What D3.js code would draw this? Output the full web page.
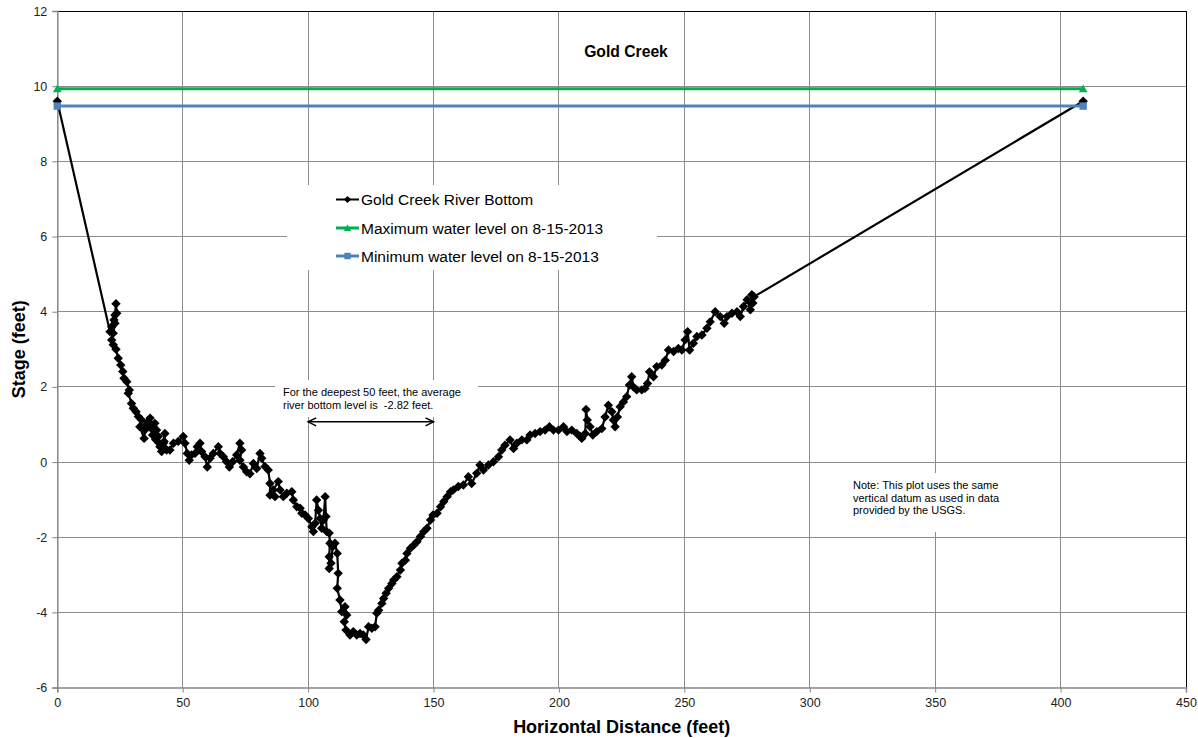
<!DOCTYPE html>
<html>
<head>
<meta charset="utf-8">
<script src="https://cdn.jsdelivr.net/npm/d3@7"></script>
<style>
  html, body { margin: 0; padding: 0; background: #fff; }
  svg { display: block; font-family: "Liberation Sans", Arial, sans-serif; }
</style>
</head>
<body>
<svg id="chart" width="1198" height="738"></svg>
<script>
// Surveyed river bottom profile (horizontal distance in feet, stage in feet)
const bottomDistance = [
  0, 21.0, 21.7, 22.6, 23.0, 23.4, 23.7, 23.0, 22.3, 21.7, 22.3, 23.4, 24.3, 25.3, 26.1, 26.6, 27.7, 28.7, 28.3, 29.6,
  30.3, 31.4, 32.3, 33.6, 32.9, 34.6, 35.0, 35.6, 36.3, 37.0, 37.4, 38.0, 38.3, 38.9, 39.2, 39.6, 40.3, 40.6, 40.9, 41.6,
  42.3, 42.9, 42.6, 42.3, 43.6, 44.9,
  46.3, 48.2, 50.2, 50.9, 51.8, 52.6, 53.5, 54.9, 55.8, 56.9, 57.5, 58.9, 59.8, 60.9, 62.2, 64.2, 64.9, 66.2, 67.5, 68.6,
  69.9, 71.5, 72.8, 73.5, 72.8, 74.2, 75.5, 76.8, 78.2, 79.5, 80.8, 81.5, 82.8, 84.1, 84.8, 84.8, 86.8, 86.1, 88.1, 88.8,
  90.1, 91.5, 93.5, 94.1, 95.5, 96.8, 97.5, 98.8, 100.1, 101.5, 102.1, 102.8, 103.4, 104.1, 104.8, 105.4, 106.1, 106.8, 107.1, 107.4,
  108.4, 108.7, 108.4, 108.4, 109.1, 109.8, 110.7, 111.6, 112.0, 111.6, 112.7, 113.4, 114.7, 115.4, 114.4, 115.1, 116.7, 118.0, 119.4, 120.7,
  122.0, 123.1, 124.1, 125.4, 126.7, 127.4, 128.1, 129.4, 130.1, 131.1, 132.1, 133.4, 134.1, 135.4, 136.8, 137.4, 138.8, 139.4, 140.8, 142.1,
  143.4, 144.8, 146.1, 147.4, 148.8, 149.8, 151.4, 152.8, 154.1, 155.4, 156.8, 157.9, 159.9, 161.9, 163.9, 165.2, 167.2, 168.5, 169.9, 171.9,
  173.9, 175.9, 177.2, 178.5, 180.5, 181.9, 183.2, 185.2, 187.2, 188.5, 190.5, 192.5, 194.5, 196.2, 197.8, 199.8, 201.8, 203.2, 205.1, 207.1,
  208.5, 209.1, 210.5, 210.8, 211.3, 212.4, 213.5, 215.1, 217.1, 218.4, 219.7, 221.1, 221.7, 222.4, 223.3, 224.4, 225.7, 227.0, 228.1, 229.0,
  229.7, 231.0, 233.0, 234.3, 235.3, 236.1, 237.7, 239.0, 241.0, 242.4, 243.7, 245.7, 247.6, 249.0, 250.3, 251.3, 252.1, 253.6, 255.0, 257.0,
  259.0, 260.3, 262.3, 264.3, 265.9, 267.0, 269.0, 271.0, 272.3, 273.6, 275.0, 276.3, 276.9, 277.3, 277.8, 409
];
const bottomStage = [
  9.6, 3.47, 3.6, 3.78, 3.91, 4.21, 3.96, 3.69, 3.43, 3.25, 3.12, 3.0, 2.76, 2.58, 2.41, 2.23, 2.14, 1.92, 1.83, 1.56,
  1.43, 1.34, 1.21, 1.12, 0.94, 0.63, 0.86, 1.0, 1.08, 1.17, 0.9, 0.72, 0.94, 1.03, 0.6, 0.85, 0.68, 0.5, 0.41, 0.28,
  0.50, 0.76, 0.55, 0.41, 0.32, 0.32,
  0.50, 0.55, 0.68, 0.5, 0.23, 0.05, 0.19, 0.23, 0.41, 0.50, 0.28, 0.14, -0.13, 0.1, 0.23, 0.41, 0.23, 0.14, 0.01, -0.13,
  0.01, 0.19, 0.50, 0.32, 0.05, -0.13, -0.26, -0.31, -0.04, -0.17, 0.23, 0.1, -0.12, -0.21, -0.57, -0.88, -0.92, -0.74, -0.52, -0.74,
  -0.92, -0.83, -0.79, -1.01, -1.19, -1.23, -1.36, -1.41, -1.5, -1.72, -1.85, -1.63, -1.01, -1.28, -1.5, -1.76, -1.54, -0.92, -1.45, -1.85,
  -1.89, -2.16, -2.52, -2.83, -2.69, -2.25, -2.16, -2.43, -2.96, -3.36, -3.67, -3.98, -3.85, -4.07, -4.25, -4.47, -4.6, -4.51, -4.6, -4.56,
  -4.6, -4.72, -4.38, -4.42, -4.38, -4.02, -3.94, -3.76, -3.63, -3.49, -3.36, -3.23, -3.14, -3.05, -2.87, -2.69, -2.61, -2.43, -2.29, -2.21,
  -2.12, -1.98, -1.85, -1.76, -1.54, -1.41, -1.36, -1.19, -1.05, -0.92, -0.79, -0.74, -0.65, -0.61, -0.39, -0.57, -0.3, -0.08, -0.21, -0.08,
  0.01, 0.14, 0.32, 0.45, 0.59, 0.36, 0.5, 0.59, 0.59, 0.72, 0.76, 0.81, 0.85, 0.94, 0.85, 0.85, 0.94, 0.81, 0.85, 0.76,
  0.68, 0.63, 0.76, 1.4, 1.12, 0.94, 0.72, 0.81, 0.89, 1.2, 1.51, 1.34, 1.12, 0.94, 1.2, 1.47, 1.6, 1.74, 2.05, 2.27,
  2.0, 1.92, 1.92, 1.96, 2.09, 2.4, 2.27, 2.54, 2.58, 2.71, 2.98, 2.94, 3.02, 2.98, 3.25, 3.47, 2.98, 3.16, 3.34, 3.38,
  3.56, 3.73, 4.0, 3.87, 3.69, 3.87, 3.96, 4.0, 3.87, 4.14, 4.32, 4.05, 4.45, 4.23, 4.4, 9.6
];

// Water levels recorded on 8-15-2013
const levelDistance = [0, 409];
const maxLevel = [9.93, 9.93];
const minLevel = [9.47, 9.47];

// Span of the deepest 50 feet
const deepSpan = [100, 150];
const deepArrowStage = 1.07;

const xTicks = [0, 50, 100, 150, 200, 250, 300, 350, 400, 450];
const yTicks = [-6, -4, -2, 0, 2, 4, 6, 8, 10, 12];

const seriesNames = [
  "Gold Creek River Bottom",
  "Maximum water level on 8-15-2013",
  "Minimum water level on 8-15-2013"
];
const seriesColors = ["#000000", "#00B050", "#4F81BD"];

const svg = d3.select("#chart");
const plot = { left: 57.3, right: 1186, top: 11, bottom: 687.6 };

const x = d3.scaleLinear().domain([0, 450]).range([plot.left, plot.right]);
const y = d3.scaleLinear().domain([-6, 12]).range([plot.bottom, plot.top]);

// Gridlines
const grid = svg.append("g").attr("stroke", "#8c8c8c").attr("stroke-width", 1).attr("shape-rendering", "crispEdges");
grid.selectAll("line.v").data(xTicks.slice(1, -1)).join("line")
  .attr("x1", d => x(d)).attr("x2", d => x(d))
  .attr("y1", plot.top).attr("y2", plot.bottom);
grid.selectAll("line.h").data(yTicks.slice(1, -1)).join("line")
  .attr("x1", plot.left).attr("x2", plot.right)
  .attr("y1", d => y(d)).attr("y2", d => y(d));

// Plot area frame (top and right)
svg.append("path")
  .attr("d", `M${plot.left},${y(12)}H${plot.right}V${plot.bottom}`)
  .attr("fill", "none").attr("stroke", "#000").attr("stroke-width", 1)
  .attr("shape-rendering", "crispEdges");

// Axes
const plain = d => String(d);
const xAxis = svg.append("g").attr("transform", `translate(0,${plot.bottom})`)
  .call(d3.axisBottom(x).tickValues(xTicks).tickSize(5).tickPadding(6).tickFormat(plain));
const yAxis = svg.append("g").attr("transform", `translate(${plot.left},0)`)
  .call(d3.axisLeft(y).tickValues(yTicks).tickSize(5).tickPadding(5).tickFormat(plain));
[xAxis, yAxis].forEach(a => {
  a.select(".domain").attr("stroke", "#868686").attr("stroke-width", 1.5);
  a.selectAll(".tick line").attr("stroke", "#868686");
  a.selectAll(".tick text").attr("fill", "#222").style("font-size", "12.5px")
    .style("font-family", "'Liberation Sans', Arial, sans-serif");
});

// Text boxes with white backgrounds (cover gridlines)
svg.append("rect").attr("x", 287).attr("y", 185).attr("width", 370).attr("height", 85).attr("fill", "#fff");
svg.append("rect").attr("x", 275).attr("y", 380).attr("width", 203).attr("height", 37).attr("fill", "#fff");
svg.append("rect").attr("x", 843).attr("y", 473).attr("width", 170).attr("height", 59).attr("fill", "#fff");

// Marker shapes
const diamond = r => `M0,${-r}L${r},0L0,${r}L${-r},0Z`;
const square = r => `M${-r},${-r}H${r}V${r}H${-r}Z`;
const triangle = r => `M0,${-r}L${r},${r * 0.8}H${-r}Z`;

const line = d3.line().x(d => x(d[0])).y(d => y(d[1]));

function drawSeries(xs, ys, color, width, shape) {
  const pts = xs.map((d, i) => [d, ys[i]]);
  const g = svg.append("g");
  g.append("path").datum(pts).attr("d", line)
    .attr("fill", "none").attr("stroke", color).attr("stroke-width", width).attr("stroke-linejoin", "round");
  g.selectAll("path.m").data(pts).join("path")
    .attr("class", "m")
    .attr("transform", d => `translate(${x(d[0])},${y(d[1])})`)
    .attr("d", shape).attr("fill", color);
}

drawSeries(bottomDistance, bottomStage, seriesColors[0], 2.2, diamond(4.7));
drawSeries(levelDistance, maxLevel, seriesColors[1], 3, triangle(4.4));
drawSeries(levelDistance, minLevel, seriesColors[2], 3, square(3.7));

// Legend
const legend = svg.append("g").attr("transform", "translate(336,0)");
const legendShapes = [diamond(3.6), triangle(3.6), square(3.2)];
const legendRows = [199.5, 228, 256];
seriesNames.forEach((name, i) => {
  const row = legend.append("g").attr("transform", `translate(0,${legendRows[i]})`);
  row.append("line").attr("x1", 0).attr("x2", 23).attr("stroke", seriesColors[i]).attr("stroke-width", i === 0 ? 2 : 3);
  row.append("path").attr("transform", "translate(11.5,0)").attr("d", legendShapes[i]).attr("fill", seriesColors[i]);
  row.append("text").attr("x", 25).attr("y", 5.5).text(name)
    .style("font-size", "15.5px").attr("fill", "#000");
});

// Title
svg.append("text").attr("x", 626).attr("y", 57).attr("text-anchor", "middle")
  .style("font-size", "15.7px").style("font-weight", "bold").text("Gold Creek");

// Axis titles
svg.append("text").attr("x", (plot.left + plot.right) / 2).attr("y", 733).attr("text-anchor", "middle")
  .style("font-size", "18px").style("font-weight", "bold").text("Horizontal Distance (feet)");
svg.append("text").attr("transform", `translate(24.5,${(plot.top + plot.bottom) / 2}) rotate(-90)`)
  .attr("text-anchor", "middle")
  .style("font-size", "18px").style("font-weight", "bold").text("Stage (feet)");

// Deepest-reach annotation with double-headed arrow
const ay = y(deepArrowStage);
const ax1 = x(deepSpan[0]), ax2 = x(deepSpan[1]);
const arrow = svg.append("g").attr("stroke", "#000").attr("stroke-width", 1.5).attr("fill", "none");
arrow.append("line").attr("x1", ax1).attr("x2", ax2).attr("y1", ay).attr("y2", ay);
arrow.append("path").attr("d", `M${ax1 + 8},${ay - 4}L${ax1},${ay}L${ax1 + 8},${ay + 4}`);
arrow.append("path").attr("d", `M${ax2 - 8},${ay - 4}L${ax2},${ay}L${ax2 - 8},${ay + 4}`);

const note1 = svg.append("text").style("font-size", "11px").attr("fill", "#000").attr("xml:space", "preserve");
note1.append("tspan").attr("x", 283).attr("y", 396).text("For the deepest 50 feet, the average");
note1.append("tspan").attr("x", 283).attr("y", 409).text("river bottom level is  -2.82 feet.").style("white-space", "pre");

const note2 = svg.append("text").style("font-size", "11px").attr("fill", "#000");
["Note: This plot uses the same", "vertical datum as used in data", "provided by the USGS."]
  .forEach((t, i) => note2.append("tspan").attr("x", 853).attr("y", 489 + i * 12.5).text(t));
</script>
</body>
</html>
